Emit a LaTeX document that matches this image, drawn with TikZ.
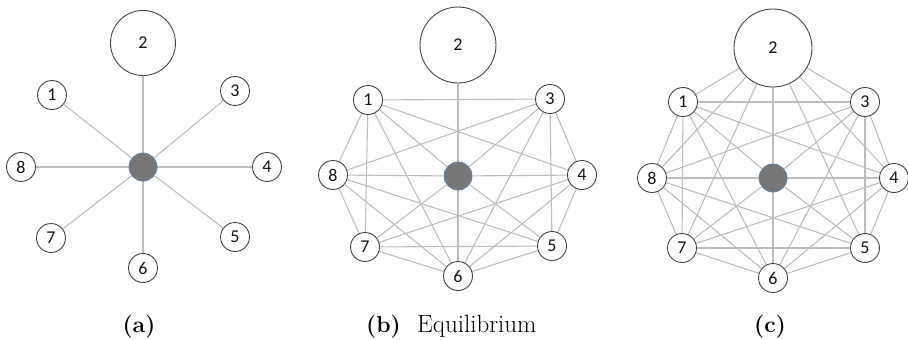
\documentclass[tikz,border=0pt]{standalone}
\usepackage{fontspec}
\newfontfamily\numfont{Carlito}
\usetikzlibrary{backgrounds}
\definecolor{ndline}{HTML}{454545}
\definecolor{edgec}{HTML}{BDBDBD}
\definecolor{hubfill}{HTML}{767676}
\definecolor{hubline}{HTML}{5F82AA}
\definecolor{txt}{HTML}{141414}
\begin{document}
\begin{tikzpicture}[x=1pt,y=-1pt,
  nd/.style={circle, draw=ndline, line width=0.9pt, fill=white, minimum size=29pt, inner sep=0pt, text=txt, font=\numfont\fontsize{18}{21}\selectfont},
  bignd/.style={nd, minimum size=#1},
  hub/.style={circle, draw=hubline, fill=hubfill, line width=0.8pt, minimum size=28pt, inner sep=0pt},
  edge/.style={draw=edgec, line width=1.1pt},
  lab/.style={inner sep=0pt, text=black, font=\fontsize{23}{28}\selectfont}]
\useasboundingbox (0,0) rectangle (908,340);
% ---------- panel (a)
\node[hub] (ac) at (143,167) {};
\node[bignd=65pt] (a2) at (143,43) {2};
\foreach \n/\x/\y in {1/52/95, 3/235/91, 8/21/167, 4/267/167, 7/51/238, 5/235/237, 6/143/268}
  \node[nd] (a\n) at (\x,\y) {\n};
% ---------- panel (b)
\node[hub] (bc) at (458,176) {};
\node[bignd=76pt] (b2) at (458,45) {2};
\foreach \n/\x/\y in {1/368/100, 3/550/99, 8/333/175, 4/582/175, 7/365/247, 5/552/246, 6/458/276}
  \node[nd] (b\n) at (\x,\y) {\n};
% ---------- panel (c)
\node[hub] (cc) at (773,178) {};
\node[bignd=78pt] (c2) at (773,48) {2};
\foreach \n/\x/\y in {1/683/102, 3/865/102, 8/652/178, 4/894/178, 7/682/248, 5/865/248, 6/773/278}
  \node[nd] (c\n) at (\x,\y) {\n};
% ---------- edges
\begin{pgfonlayer}{background}
  \foreach \i in {1,...,8} {
    \draw[edge] (ac) -- (a\i);
    \draw[edge] (bc) -- (b\i);
    \draw[edge] (cc) -- (c\i);
  }
  \foreach \i/\j in {1/3,1/4,1/6,1/7,1/8,3/8,3/4,3/5,3/6,8/7,8/5,8/6,4/5,4/7,4/6,7/5,7/6,5/6} {
    \draw[edge] (b\i) -- (b\j);
    \draw[edge] (c\i) -- (c\j);
  }
  \foreach \j in {1,3,4,5,6,7,8}
    \draw[edge] (c2) -- (c\j);
\end{pgfonlayer}
% ---------- captions
\node[lab, anchor=base] (la) at (139,332) {\textbf{(a)}};
\node[lab, anchor=base west] (lb) at (366,332) {\textbf{(b)}};
\node[lab, anchor=base west, font=\fontsize{25}{30}\selectfont] (lbt) at (417,332) {Equilibrium};
\node[lab, anchor=base] (lc) at (770,332) {\textbf{(c)}};
\end{tikzpicture}
\end{document}
